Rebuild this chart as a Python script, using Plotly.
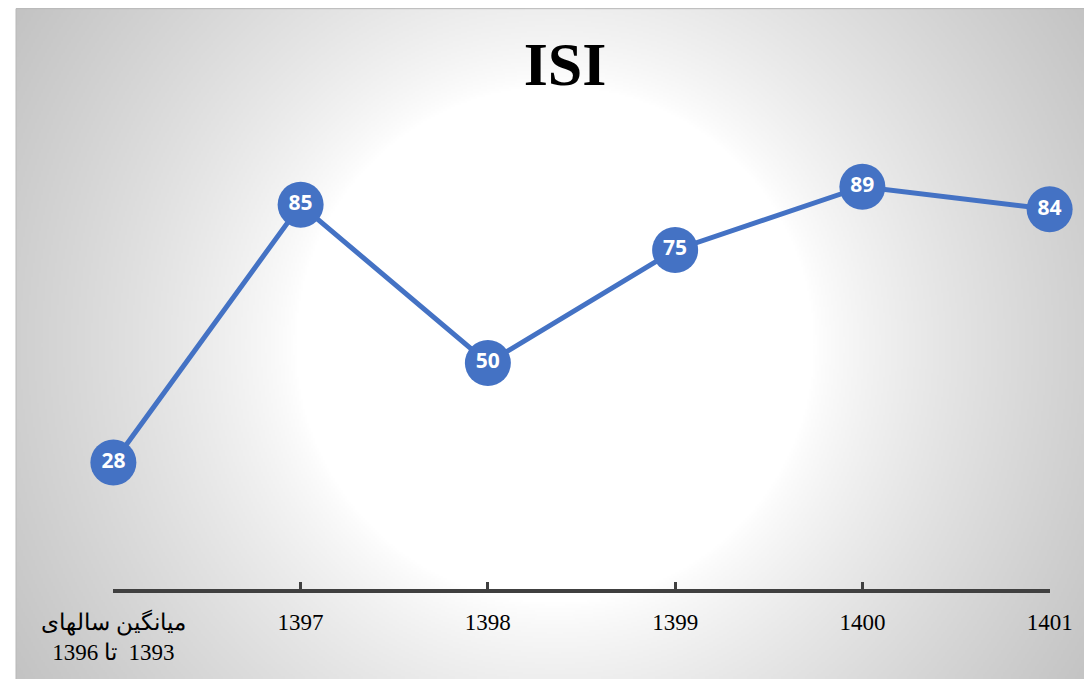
import base64
import struct
import zlib

import numpy as np
import plotly.graph_objects as go

# داده‌ها
categories = ["avg", "1397", "1398", "1399", "1400", "1401"]
tick_labels = [
    "میانگین سالهای<br>\u202b1393  تا 1396\u202c",
    "1397", "1398", "1399", "1400", "1401",
]
isi_values = [28, 85, 50, 75, 89, 84]

OFF = 8  # page body margin
W, H = 1092 - OFF, 679 - OFF
BLUE = "#4472C4"
AXIS = "#404040"


def px(x):
    return (x - OFF) / W


def py(y):
    return 1 - (y - OFF) / H


def gray_png(arr):
    """Encode a 2D uint8 array as grayscale PNG data URI."""
    h, w = arr.shape
    raw = b"".join(b"\x00" + arr[i].tobytes() for i in range(h))

    def chunk(tag, data):
        c = struct.pack(">I", len(data)) + tag + data
        return c + struct.pack(">I", zlib.crc32(tag + data) & 0xFFFFFFFF)

    png = b"\x89PNG\r\n\x1a\n"
    png += chunk(b"IHDR", struct.pack(">IIBBBBB", w, h, 8, 0, 0, 0, 0))
    png += chunk(b"IDAT", zlib.compress(raw, 9))
    png += chunk(b"IEND", b"")
    return "data:image/png;base64," + base64.b64encode(png).decode()


# radial background (chart area style), screen box 16..1092 x 7..679
bw, bh = 1092 - 16, 679 - 7
gw, gh = bw // 2, bh // 2
yy, xx = np.mgrid[0:gh, 0:gw]
r = np.hypot(xx - gw / 2, yy - gh / 2) * 2
r0, r1 = 260.0, np.hypot(bw / 2, bh / 2)
t = np.clip((r - r0) / (r1 - r0), 0, 1) ** 0.8
bg = (255 - 60 * t).astype(np.uint8)

fig = go.Figure()
fig.add_trace(go.Scatter(
    x=categories,
    y=isi_values,
    mode="lines+markers+text",
    text=[str(v) for v in isi_values],
    textposition="middle center",
    textfont=dict(family="Open Sans", size=21, color="white", weight="bold"),
    line=dict(color=BLUE, width=5),
    marker=dict(color=BLUE, size=46),
    cliponaxis=False,
    hoverinfo="x+y",
    showlegend=False,
))

fig.update_layout(
    width=W,
    height=H,
    margin=dict(l=0, r=0, t=0, b=0),
    paper_bgcolor="white",
    plot_bgcolor="rgba(0,0,0,0)",
    title=dict(
        text="<b>ISI</b>",
        x=px(565), xanchor="center",
        y=py(63), yanchor="middle",
        font=dict(family="Liberation Serif", size=62, color="black"),
    ),
    images=[dict(
        source=gray_png(bg),
        xref="paper", yref="paper",
        x=px(16), y=1,
        sizex=1 - px(16), sizey=1,
        xanchor="left", yanchor="top",
        sizing="stretch", layer="below",
    )],
    shapes=[dict(
        type="rect", xref="paper", yref="paper",
        x0=px(16), x1=1.01, y0=-0.01, y1=0.999,
        line=dict(color="#b8b8b8", width=1),
        layer="below",
    )],
    xaxis=dict(
        type="category",
        domain=[px(113), px(1050)],
        range=[-0.002, 5.002],
        automargin=False,
        tickvals=categories,
        ticktext=tick_labels,
        ticks="inside",
        ticklen=7,
        tickwidth=3,
        tickcolor=AXIS,
        showline=True,
        linewidth=3.5,
        linecolor=AXIS,
        showgrid=False,
        zeroline=False,
        ticklabelstandoff=10,
        tickfont=dict(family="Liberation Serif", size=23, color="black"),
    ),
    yaxis=dict(
        domain=[py(589), py(137)],
        range=[0, 100],
        automargin=False,
        visible=False,
        showgrid=False,
        zeroline=False,
    ),
)

fig.write_html("out.html")
